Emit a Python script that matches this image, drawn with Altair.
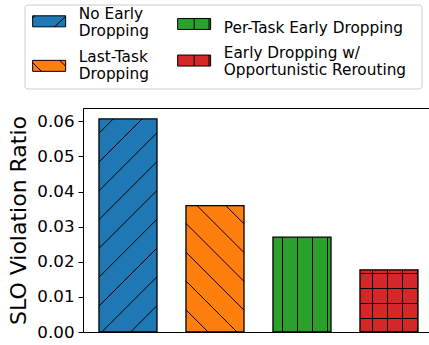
import altair as alt
import pandas as pd

# --- data -------------------------------------------------------------
methods = [
    "No Early Dropping",
    "Last-Task Dropping",
    "Per-Task Early Dropping",
    "Early Dropping w/ Opportunistic Rerouting",
]
ratios = [0.0607, 0.0360, 0.0270, 0.0177]
colors = ["#1f77b4", "#ff7f0e", "#2ca02c", "#d62728"]
hatches = ["/", "\\", "|", "+"]
legend_lines = [
    ["No Early", "Dropping"],
    ["Last-Task", "Dropping"],
    ["Per-Task Early Dropping"],
    ["Early Dropping w/", "Opportunistic Rerouting"],
]
y_ticks = [0.0, 0.01, 0.02, 0.03, 0.04, 0.05, 0.06]

# --- layout -----------------------------------------------------------
W, H = 346, 224
X_MIN = -0.517
X_MAX = X_MIN + W / 87.0
Y_MAX = 0.0638
BAR_W = 0.667
FONT = "DejaVu Sans"

PX = W / (X_MAX - X_MIN)   # pixels per x unit
PY = H / Y_MAX             # pixels per y unit

DIAG_STEP, DIAG_PHASE = 28.8, 10.0
GRID_STEP, VPHASE, HPHASE = 15.0, 4.5, 13.5

# --- legend swatches ----------------------------------------------------
# Path unit is 5.5 px (symbolSize 121).  Each swatch is a 33x11 box placed
# relative to the label anchor; a bare move-to above it gives every entry the
# same top reach so all rows line up on their anchors.
U = 5.5
ENTRY_TOP = 16.0
swatch_spec = [
    # (box centre below label anchor, hatch hint, right reach in units)
    (2.8, [((3, 1), (5, -0.9)), ((-1, -0.6), (-0.6, -1))], None),
    (4.3, [((-1, -0.6), (0.6, 1)), ((3.9, -1), (5, 0.06))], None),
    (2.8, [((2, -1), (2, 1)), ((4.7, -1), (4.7, 1))], None),
    (-1.0, [((2, -1), (2, 1)), ((4.7, -1), (4.7, 1))], 41.8),
]
label_baselines = ["alphabetic", "alphabetic", "top", "line-bottom"]


def swatch(dy_px, extra, reach):
    dy = dy_px / U

    def p(x, y):
        return f"{x:g},{y + dy:.3f}"

    path = f"M-1,{-ENTRY_TOP / U:.3f} "
    path += f"M{p(-1, -1)}L{p(5, -1)}L{p(5, 1)}L{p(-1, 1)}Z"
    path += "".join(f" M{p(*a)}L{p(*b)}" for a, b in extra)
    if reach is not None:
        path += f" M{reach:g},{dy:.3f}"
    return path


swatch_paths = [swatch(*s) for s in swatch_spec]

bars_df = pd.DataFrame({"method": methods, "ratio": ratios, "pos": list(range(len(methods)))})
bars_df["x0"] = bars_df["pos"] - BAR_W / 2
bars_df["x1"] = bars_df["pos"] + BAR_W / 2


def hatch_segments(x0, x1, top, kind):
    """Hatch lines clipped to a bar, built in pixel space and returned in data units."""
    X0, X1 = (x0 - X_MIN) * PX, (x1 - X_MIN) * PX
    Y1 = top * PY
    segs = []
    if kind in ("/", "\\"):
        for n in range(-40, 60):
            c = DIAG_PHASE + n * DIAG_STEP
            if kind == "/":
                # rising to the right: y = x + c
                lo, hi = max(X0, -c), min(X1, Y1 - c)
                if lo < hi:
                    segs.append((lo, lo + c, hi, hi + c))
            else:
                # falling to the right: y = c - x
                lo, hi = max(X0, c - Y1), min(X1, c)
                if lo < hi:
                    segs.append((lo, c - lo, hi, c - hi))
    if kind in ("|", "+"):
        v = VPHASE
        while v < X1:
            if v > X0 + 1:
                segs.append((v, 0.0, v, Y1))
            v += GRID_STEP
    if kind == "+":
        h = HPHASE
        while h < Y1 - 1:
            segs.append((X0, h, X1, h))
            h += GRID_STEP
    return [
        {"xa": a / PX + X_MIN, "ya": b / PY, "xb": e / PX + X_MIN, "yb": d / PY}
        for a, b, e, d in segs
    ]


hatch_rows = []
for _, r in bars_df.iterrows():
    hatch_rows += hatch_segments(r["x0"], r["x1"], r["ratio"], hatches[int(r["pos"])])
hatch_df = pd.DataFrame(hatch_rows)


def case_expr(key, values):
    expr = repr(values[-1])
    for m, v in reversed(list(zip(methods[:-1], values[:-1]))):
        expr = f"datum.{key} === {m!r} ? {v!r} : {expr}"
    return expr


label_expr = case_expr("label", legend_lines)
shape_expr = case_expr("value", swatch_paths)
baseline_expr = case_expr("value", label_baselines)

x_scale = alt.Scale(domain=[X_MIN, X_MAX], nice=False, zero=False)
y_scale = alt.Scale(domain=[0, Y_MAX], nice=False)
y_axis = alt.Axis(values=y_ticks, format=".2f", title="SLO Violation Ratio")

bars = alt.Chart(bars_df).mark_bar(stroke="black", strokeWidth=1.3).encode(
    x=alt.X("x0:Q", scale=x_scale, axis=None),
    x2="x1:Q",
    y=alt.Y("ratio:Q", scale=y_scale, axis=y_axis),
    y2=alt.datum(0),
    color=alt.Color(
        "method:N",
        scale=alt.Scale(domain=methods, range=colors),
        legend=alt.Legend(
            title=None,
            orient="none",
            legendX=-58.5,
            legendY=-103.5,
            columns=2,
            columnPadding=26,
            rowPadding=3.4,
            padding=6,
            labelExpr=label_expr,
            labelBaseline=alt.ExprRef(expr=baseline_expr),
            labelFont=FONT,
            labelFontSize=15.3,
            labelColor="black",
            labelOffset=33,
            labelLimit=400,
            symbolType=alt.ExprRef(expr=shape_expr),
            symbolSize=U * U * 4,
            symbolStrokeColor="black",
            symbolStrokeWidth=1,
            symbolOpacity=1,
            strokeColor="#cccccc",
            fillColor="white",
            cornerRadius=3,
        ),
    ),
)

hatch = alt.Chart(hatch_df).mark_rule(color="black", strokeWidth=1).encode(
    x=alt.X("xa:Q", scale=x_scale, axis=None),
    x2="xb:Q",
    y=alt.Y("ya:Q", scale=y_scale, axis=y_axis),
    y2="yb:Q",
)

chart = (
    alt.layer(bars, hatch)
    .properties(
        width=W,
        height=H,
        padding={"left": 83, "top": 108, "right": 0, "bottom": 13},
        autosize="none",
        background="white",
    )
    .configure_view(stroke="black", strokeWidth=1)
    .configure_axis(
        grid=False,
        labelFont=FONT,
        labelFontSize=16.7,
        labelColor="black",
        labelPadding=4,
        tickColor="black",
        tickSize=5,
        tickWidth=1,
        domainColor="black",
        titleFont=FONT,
        titleFontSize=22,
        titleFontWeight="normal",
        titleColor="black",
        titlePadding=6,
    )
)

chart.save("out.html", embed_options={"renderer": "svg", "actions": False})
